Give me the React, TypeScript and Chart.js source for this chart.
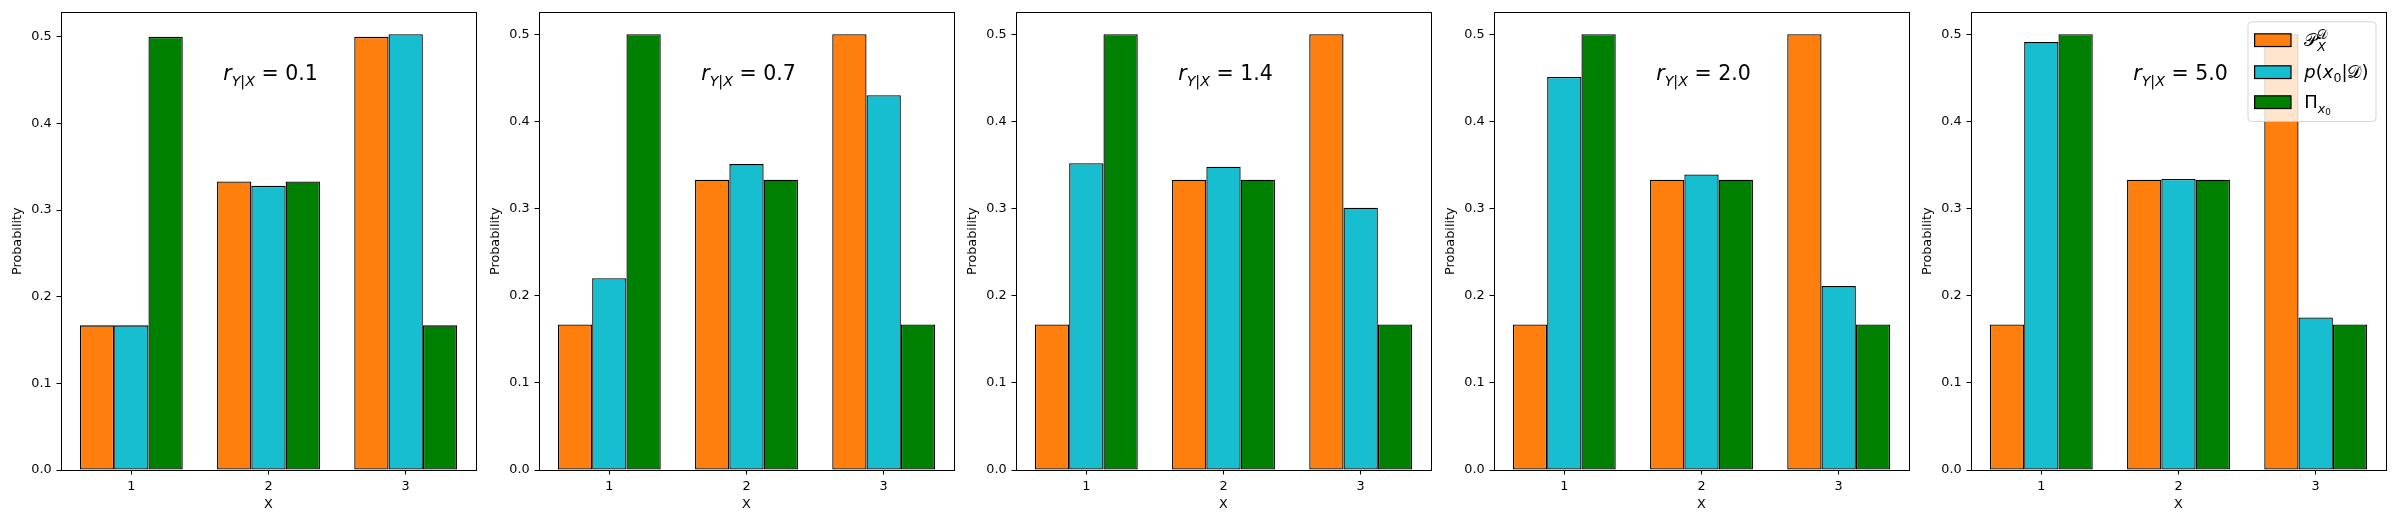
import { useEffect, useRef } from "react"
import { Chart, registerables } from "chart.js"

Chart.register(...registerables)

const FONT = "'DejaVu Sans', 'DejaVu Serif', sans-serif"

// data
const xValues = [1, 2, 3]
const yTicks = [0, 0.1, 0.2, 0.3, 0.4, 0.5]
const rLabels = ["0.1", "0.7", "1.4", "2.0", "5.0"]

const priorPX = [0.167, 0.333, 0.5]
const piX0 = [0.5, 0.333, 0.167]

const posteriorR01 = [0.167, 0.328, 0.503]
const posteriorR07 = [0.22, 0.351, 0.43]
const posteriorR14 = [0.352, 0.348, 0.301]
const posteriorR20 = [0.451, 0.339, 0.211]
const posteriorR50 = [0.491, 0.334, 0.175]

const posteriors = [posteriorR01, posteriorR07, posteriorR14, posteriorR20, posteriorR50]

const ORANGE = "#ff7f0e"
const CYAN = "#17becf"
const GREEN = "#008000"

// layout of the five axes (left edge of each plot area)
const axesLefts = [61, 539, 1016, 1494, 1971]
const Y_AXIS_W = 61
const CANVAS_W = 478
const CANVAS_H = 525

type Run = { t: string; size: number; italic?: boolean; dy?: number; stack?: boolean }

function drawRuns(ctx: CanvasRenderingContext2D, runs: Run[], x: number, y: number, draw = true) {
  let cx = x
  let prevStart = x
  for (const r of runs) {
    ctx.font = `${r.italic ? "italic " : ""}${r.size}px ${FONT}`
    const w = ctx.measureText(r.t).width
    const sx = r.stack ? prevStart : cx
    if (draw) ctx.fillText(r.t, sx, y + (r.dy ?? 0))
    cx = r.stack ? Math.max(cx, sx + w) : sx + w
    prevStart = sx
  }
  return cx - x
}

const legendItems: { color: string; runs: Run[] }[] = [
  {
    color: ORANGE,
    runs: [
      { t: "𝒫", size: 18 },
      { t: "𝒟", size: 12.6, dy: -7.5 },
      { t: "X", size: 12.6, italic: true, dy: 5, stack: true },
    ],
  },
  {
    color: CYAN,
    runs: [
      { t: "p", size: 18, italic: true },
      { t: "(", size: 18 },
      { t: "x", size: 18, italic: true },
      { t: "0", size: 12.6, dy: 4 },
      { t: "|", size: 18 },
      { t: "𝒟", size: 18 },
      { t: ")", size: 18 },
    ],
  },
  {
    color: GREEN,
    runs: [
      { t: "Π", size: 18 },
      { t: "x", size: 12.6, italic: true, dy: 4.5 },
      { t: "0", size: 8.8, dy: 7 },
    ],
  },
]

function Panel({ index }: { index: number }) {
  const chartRef = useRef<HTMLCanvasElement>(null)
  const chartInstance = useRef<Chart | null>(null)

  useEffect(() => {
    if (!chartRef.current) return
    const ctx = chartRef.current.getContext("2d")
    if (!ctx) return
    if (chartInstance.current) chartInstance.current.destroy()

    const post = posteriors[index]
    const yMax = Math.max(...priorPX, ...post, ...piX0) * 1.05
    const showLegend = index === posteriors.length - 1

    const overlay = {
      id: "overlay",
      afterDraw(chart: Chart) {
        const c = chart.ctx
        const a = chart.chartArea
        c.save()
        c.strokeStyle = "#000"
        c.lineWidth = 1
        c.strokeRect(Math.round(a.left) + 0.5, Math.round(a.top) + 0.5, Math.round(a.right - a.left), Math.round(a.bottom - a.top))

        // r_{Y|X} annotation
        c.fillStyle = "#000"
        c.textBaseline = "alphabetic"
        c.textAlign = "left"
        const runs: Run[] = [
          { t: "r", size: 20.5, italic: true },
          { t: "Y", size: 14.3, italic: true, dy: 6.7 },
          { t: "|", size: 14.3, dy: 6.7 },
          { t: "X", size: 14.3, italic: true, dy: 6.7 },
          { t: " = ", size: 20.5 },
          { t: rLabels[index], size: 20.5 },
        ]
        const w = drawRuns(c, runs, 0, 0, false)
        drawRuns(c, runs, (a.left + a.right) / 2 + 2 - w / 2, a.top + 67.3)

        if (showLegend) {
          const widths = legendItems.map((it) => drawRuns(c, it.runs, 0, 0, false))
          const boxW = 6.6 + 36.4 + 13.3 + Math.max(...widths) + 7.5
          const right = a.right - 10
          const left = right - boxW
          const top = a.top + 9.3
          const boxH = 99.7
          c.beginPath()
          c.roundRect(left, top, boxW, boxH, 3.6)
          c.fillStyle = "rgba(255,255,255,0.8)"
          c.fill()
          c.strokeStyle = "rgba(204,204,204,0.8)"
          c.lineWidth = 1
          c.stroke()
          const centers = [18.4, 50.4, 80.4]
          legendItems.forEach((it, i) => {
            const cy = top + centers[i]
            c.fillStyle = it.color
            c.fillRect(left + 6.6, cy - 6.35, 36.4, 12.7)
            c.strokeStyle = "#000"
            c.lineWidth = 1.2
            c.strokeRect(left + 6.6, cy - 6.35, 36.4, 12.7)
            c.fillStyle = "#000"
            drawRuns(c, it.runs, left + 6.6 + 36.4 + 13.3, cy + 6)
          })
        }
        c.restore()
      },
    }

    const mk = (label: string, values: number[], color: string) => ({
      label,
      data: values.map((v, i) => ({ x: xValues[i], y: v })),
      backgroundColor: color,
      borderColor: "#000",
      borderWidth: 1.3,
      borderSkipped: false as const,
      categoryPercentage: 0.75,
      barPercentage: 1.0,
    })

    chartInstance.current = new Chart(ctx, {
      type: "bar",
      data: {
        datasets: [
          mk("P_X^D", priorPX, ORANGE),
          mk("p(x0|D)", post, CYAN),
          mk("Pi_x0", piX0, GREEN),
        ],
      },
      options: {
        animation: false,
        responsive: true,
        maintainAspectRatio: false,
        layout: { padding: { left: 0, top: 10, right: 2, bottom: 0 } },
        plugins: {
          legend: { display: false },
          tooltip: { enabled: false },
        },
        scales: {
          x: {
            type: "linear",
            min: 0.4875,
            max: 3.5125,
            offset: false,
            afterFit: (s: any) => {
              s.height = 55
            },
            afterBuildTicks: (s: any) => {
              s.ticks = xValues.map((v) => ({ value: v }))
            },
            grid: {
              display: true,
              drawOnChartArea: false,
              drawTicks: true,
              tickLength: 4.5,
              color: "#000",
              lineWidth: 1,
              offset: false,
            },
            border: { display: false },
            ticks: {
              color: "#000",
              font: { family: FONT, size: 12.8 },
              padding: 4.5,
              maxRotation: 0,
              callback: (v: any) => String(v),
            },
            title: {
              display: true,
              text: "X",
              color: "#000",
              font: { family: FONT, size: 12.8 },
              padding: { top: 0, bottom: 12.3 },
            },
          },
          y: {
            type: "linear",
            min: 0,
            max: yMax,
            afterFit: (s: any) => {
              s.width = Y_AXIS_W
            },
            afterBuildTicks: (s: any) => {
              s.ticks = yTicks.map((v) => ({ value: v }))
            },
            grid: {
              display: true,
              drawOnChartArea: false,
              drawTicks: true,
              tickLength: 4.5,
              color: "#000",
              lineWidth: 1,
            },
            border: { display: false },
            ticks: {
              color: "#000",
              font: { family: FONT, size: 12.8 },
              padding: 4.8,
              callback: (v: any) => Number(v).toFixed(1),
            },
            title: {
              display: true,
              text: "Probability",
              color: "#000",
              font: { family: FONT, size: 12.8 },
              padding: { top: 9.8, bottom: 0 },
            },
          },
        },
      },
      plugins: [overlay],
    })

    return () => {
      if (chartInstance.current) {
        chartInstance.current.destroy()
        chartInstance.current = null
      }
    }
  }, [index])

  return (
    <div
      style={{
        position: "absolute",
        left: axesLefts[index] - Y_AXIS_W,
        top: 0,
        width: CANVAS_W,
        height: CANVAS_H,
      }}
    >
      <canvas ref={chartRef} />
    </div>
  )
}

export default function App() {
  return (
    <div
      style={{
        position: "absolute",
        left: 0,
        top: 0,
        width: 2396,
        height: 525,
        background: "#fff",
        overflow: "hidden",
      }}
    >
      {posteriors.map((_, i) => (
        <Panel key={i} index={i} />
      ))}
    </div>
  )
}
